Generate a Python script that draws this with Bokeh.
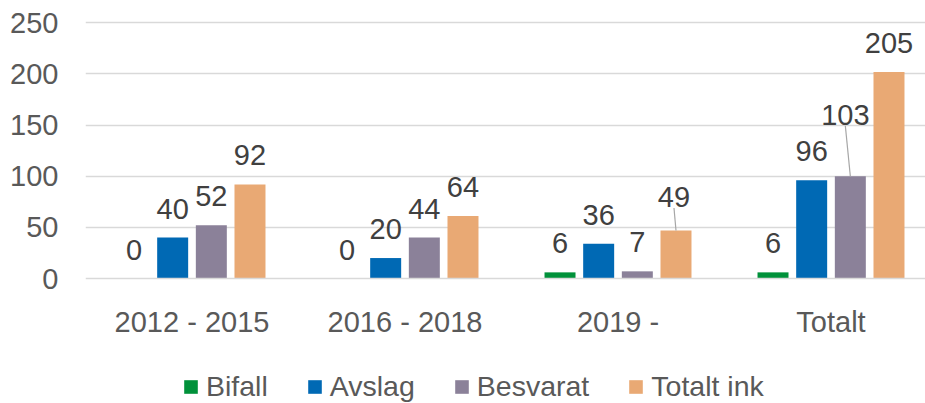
from bokeh.plotting import figure
from bokeh.models import ColumnDataSource, Range1d, FixedTicker, Legend, LegendItem
from bokeh.core.properties import value
from bokeh.embed import file_html
from bokeh.resources import INLINE

# ---- data ----
categories = ["2012 - 2015", "2016 - 2018", "2019 -", "Totalt"]
series = ["Bifall", "Avslag", "Besvarat", "Totalt ink"]
bifall = [0, 0, 6, 6]
avslag = [40, 20, 34, 96]
besvarat = [52, 40, 7, 100]
totalt_ink = [92, 61, 47, 202]
bifall_labels = ["0", "0", "6", "6"]
avslag_labels = ["40", "20", "36", "96"]
besvarat_labels = ["52", "44", "7", "103"]
totalt_ink_labels = ["92", "64", "49", "205"]
y_ticks = [0, 50, 100, 150, 200, 250]

# ---- style ----
colors = ["#00913A", "#0069B4", "#8B8199", "#E9A974"]
FONT = "Liberation Sans"
W, H = 925, 403
LEFT = 85
FRAME_W = W - LEFT
PX_X = 213.0
X_END = FRAME_W / PX_X
PX_Y = 270.0 / 264.0
ZERO_PX = 278.0
Y_END = ZERO_PX / PX_Y
Y_START = -(H - ZERO_PX) / PX_Y
STEP = 0.1815
BAR_W = 0.1455

p = figure(width=W, height=H, x_range=Range1d(0, X_END), y_range=Range1d(Y_START, Y_END),
           output_backend="svg", toolbar_location=None,
           min_border_left=LEFT, min_border_right=0, min_border_top=0,
           min_border_bottom=0)
p.outline_line_color = None
p.background_fill_color = "white"
p.border_fill_color = "white"

values_all = [bifall, avslag, besvarat, totalt_ink]
labels_all = [bifall_labels, avslag_labels, besvarat_labels, totalt_ink_labels]

label_shift = {(3, 2): (-2, -33), (2, 3): (-5, -61)}

renderers = []
lx, ly, lt, lxo, lyo = [], [], [], [], []
seg = dict(x0=[], y0=[], x1=[], y1=[])
for s_i, (vals, labs) in enumerate(zip(values_all, labels_all)):
    xs = [c + 0.5 + (s_i - 1.5) * STEP for c in range(len(categories))]
    src = ColumnDataSource(dict(x=xs, top=vals))
    r = p.vbar(x="x", top="top", width=BAR_W, bottom=0, source=src,
               fill_color=colors[s_i], line_color=None)
    renderers.append(r)
    for c_i in range(len(categories)):
        dx, dy = label_shift.get((s_i, c_i), (0, -29))
        lx.append(xs[c_i]); ly.append(vals[c_i]); lt.append(labs[c_i])
        lxo.append(dx); lyo.append(dy)
        if (s_i, c_i) in label_shift:
            seg["x0"].append(xs[c_i] + dx / PX_X)
            seg["y0"].append(vals[c_i] + (-dy - 10.5) / PX_Y)
            seg["x1"].append(xs[c_i])
            seg["y1"].append(vals[c_i])

p.segment(x0="x0", y0="y0", x1="x1", y1="y1", source=ColumnDataSource(seg),
          line_color="#A6A6A6", line_width=1.2)

p.text(x="x", y="y", text="t", x_offset="xo", y_offset="yo",
       source=ColumnDataSource(dict(x=lx, y=ly, t=lt, xo=lxo, yo=lyo)),
       text_align="center", text_baseline="middle",
       text_font=value(FONT), text_font_size="29px", text_color="#404040")

# axes
p.yaxis.ticker = FixedTicker(ticks=y_ticks)
p.yaxis.axis_line_color = None
p.yaxis.major_tick_line_color = None
p.yaxis.minor_tick_line_color = None
p.yaxis.major_tick_out = 0
p.yaxis.major_tick_in = 0
p.yaxis.major_label_standoff = 27
p.yaxis.major_label_text_font = FONT
p.yaxis.major_label_text_font_size = "29px"
p.yaxis.major_label_text_color = "#595959"

p.xaxis.fixed_location = 0
p.xaxis.ticker = FixedTicker(ticks=[i + 0.5 for i in range(len(categories))])
p.xaxis.major_label_overrides = {i + 0.5: c for i, c in enumerate(categories)}
p.xaxis.axis_line_color = "#D9D9D9"
p.xaxis.axis_line_width = 1.3
p.xaxis.major_tick_line_color = None
p.xaxis.minor_tick_line_color = None
p.xaxis.major_tick_out = 0
p.xaxis.major_tick_in = 0
p.xaxis.major_label_standoff = 27
p.xaxis.major_label_text_font = FONT
p.xaxis.major_label_text_font_size = "29px"
p.xaxis.major_label_text_color = "#595959"

p.xgrid.grid_line_color = None
p.ygrid.ticker = FixedTicker(ticks=y_ticks[1:])
p.ygrid.grid_line_color = "#D9D9D9"
p.ygrid.grid_line_width = 1.3

legend = Legend(items=[LegendItem(label=s, renderers=[r]) for s, r in zip(series, renderers)],
                orientation="horizontal", location=(97, 0),
                glyph_width=17, glyph_height=17, label_standoff=7, spacing=38,
                padding=0, margin=0, border_line_color=None, background_fill_alpha=0,
                label_text_font=FONT, label_text_font_size="28.5px",
                label_text_color="#595959")
p.add_layout(legend, "center")

open("out.html", "w").write(file_html(p, INLINE))
